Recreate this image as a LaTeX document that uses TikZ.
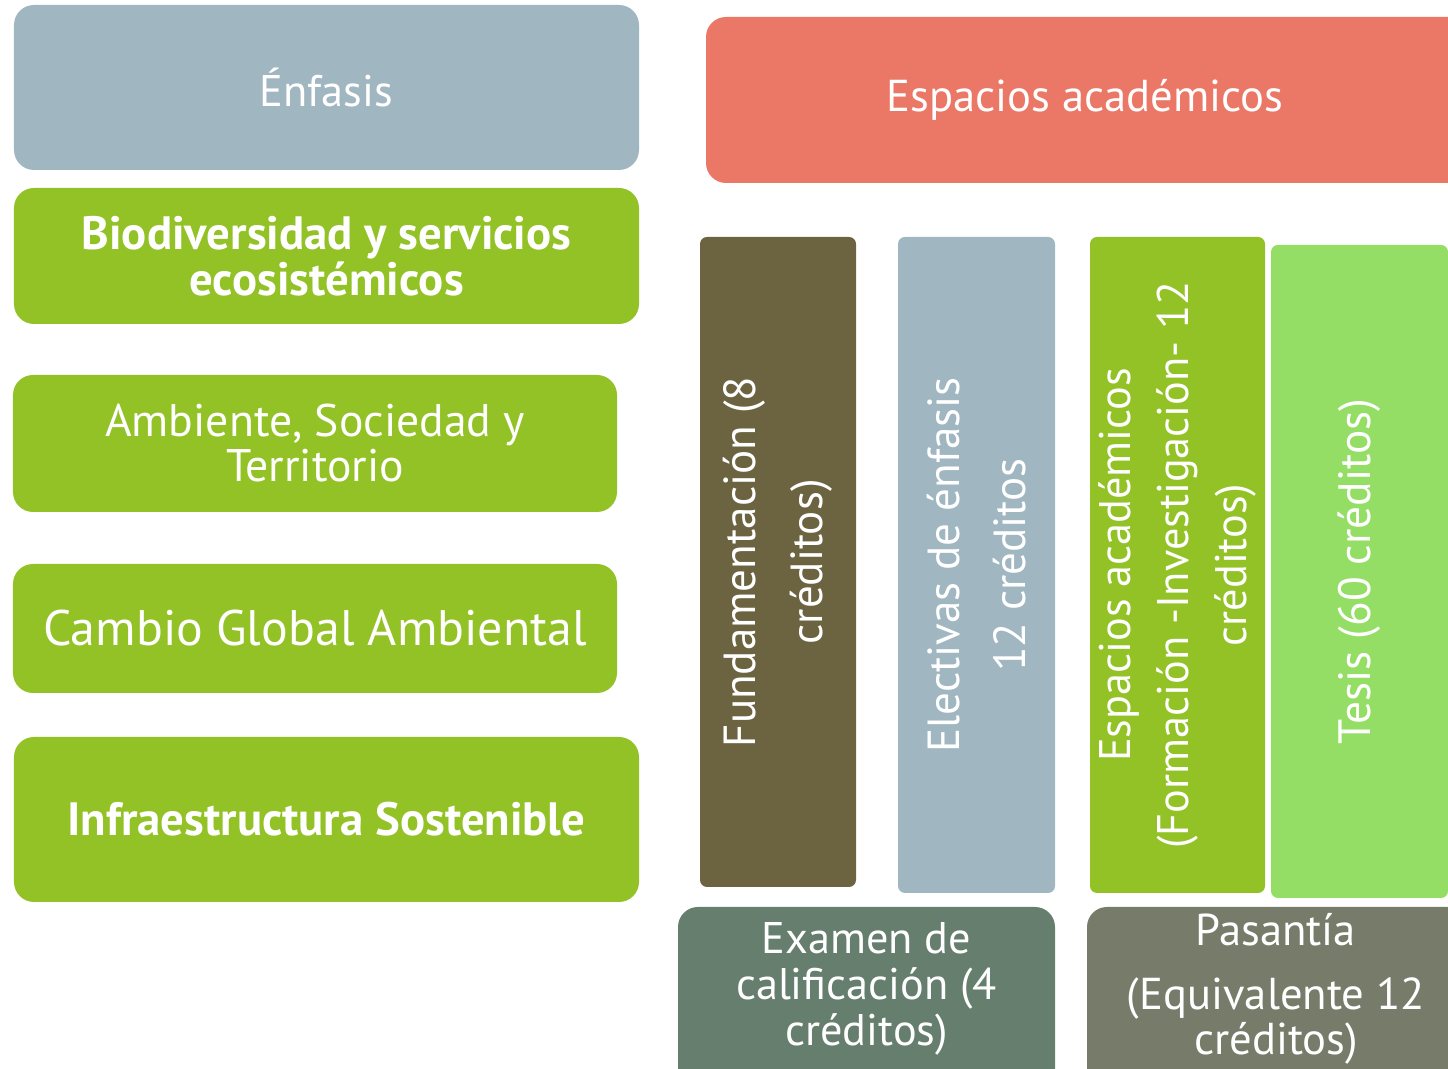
\documentclass[tikz,border=0pt]{standalone}
\usepackage{fontspec}
\setmainfont{PT Sans}
\definecolor{enfc}{HTML}{A0B6C1}
\definecolor{verde}{HTML}{92C226}
\definecolor{rojo}{HTML}{EB7867}
\definecolor{fundc}{HTML}{6C6441}
\definecolor{tesisc}{HTML}{95DE65}
\definecolor{examc}{HTML}{667E6E}
\definecolor{pasac}{HTML}{767B6A}
\tikzset{
  box/.style={rounded corners=0.2cm, text=white, align=center, inner sep=0pt},
  col/.style={rounded corners=0.07cm, text=white, align=center, inner sep=0pt, rotate=90},
}
\begin{document}
\begin{tikzpicture}
  \useasboundingbox (0,0) rectangle (14.48,-10.69);
  \clip (0,0) rectangle (14.48,-10.69);

  %% enfasis
  \node[box, fill=enfc, minimum width=6.25cm, minimum height=1.65cm,
    font=\fontsize{12.6}{15}\selectfont] (enfasis) at (3.265,-0.875) {Énfasis};
  \node[box, fill=verde, minimum width=6.25cm, minimum height=1.36cm,
    font=\fontsize{13.3}{13.2}\selectfont\bfseries] (biodiv) at (3.265,-2.56) {Biodiversidad y servicios\\ecosistémicos};
  \node[box, fill=verde, minimum width=6.04cm, minimum height=1.37cm,
    font=\fontsize{13}{12.8}\selectfont] (ambiente) at (3.15,-4.435) {Ambiente, Sociedad y\\Territorio};
  \node[box, fill=verde, minimum width=6.04cm, minimum height=1.29cm,
    font=\fontsize{14.2}{17}\selectfont] (cambio) at (3.15,-6.285) {Cambio Global Ambiental};
  \node[box, fill=verde, minimum width=6.25cm, minimum height=1.65cm,
    font=\fontsize{13.3}{16}\selectfont\bfseries] (infra) at (3.265,-8.195) {Infraestructura Sostenible};

  %% espacios academicos
  \node[box, fill=rojo, minimum width=8.2cm, minimum height=1.66cm] (espacios) at (11.16,-1.0) {};
  \node[text=white, font=\fontsize{12.7}{15}\selectfont] (esptxt) at (10.85,-1.0) {Espacios académicos};

  %% columnas
  \node[col, fill=fundc, minimum width=6.5cm, minimum height=1.56cm,
    font=\fontsize{12.8}{19}\selectfont] (fund) at (7.78,-5.62) {Fundamentación (8\\créditos)};
  \node[col, fill=enfc, minimum width=6.56cm, minimum height=1.57cm,
    font=\fontsize{12.8}{19}\selectfont] (elect) at (9.765,-5.65) {Electivas de énfasis\\12 créditos};
  \node[col, fill=verde, minimum width=6.56cm, minimum height=1.75cm,
    font=\fontsize{12.6}{16.5}\selectfont] (formacion) at (11.775,-5.65) {Espacios académicos\\(Formación -Investigación- 12\\créditos)};
  \node[col, fill=tesisc, minimum width=6.53cm, minimum height=1.77cm,
    font=\fontsize{12.9}{19}\selectfont] (tesis) at (13.595,-5.715) {Tesis (60 créditos)};

  %% examen y pasantia
  \node[box, fill=examc, minimum width=3.77cm, minimum height=1.85cm] (examen) at (8.665,-9.995) {};
  \node[text=white, align=center, font=\fontsize{12.6}{13}\selectfont] (examtxt) at (8.665,-9.89)
    {Examen de\\calificación (4\\créditos)};
  \node[box, fill=pasac, minimum width=3.8cm, minimum height=1.85cm] (pasantia) at (12.77,-9.995) {};
  \node[text=white, align=center, font=\fontsize{12.7}{13}\selectfont] (pasatxt) at (12.76,-9.89)
    {Pasantía\\[0.18cm](Equivalente 12\\créditos)};
\end{tikzpicture}
\end{document}
